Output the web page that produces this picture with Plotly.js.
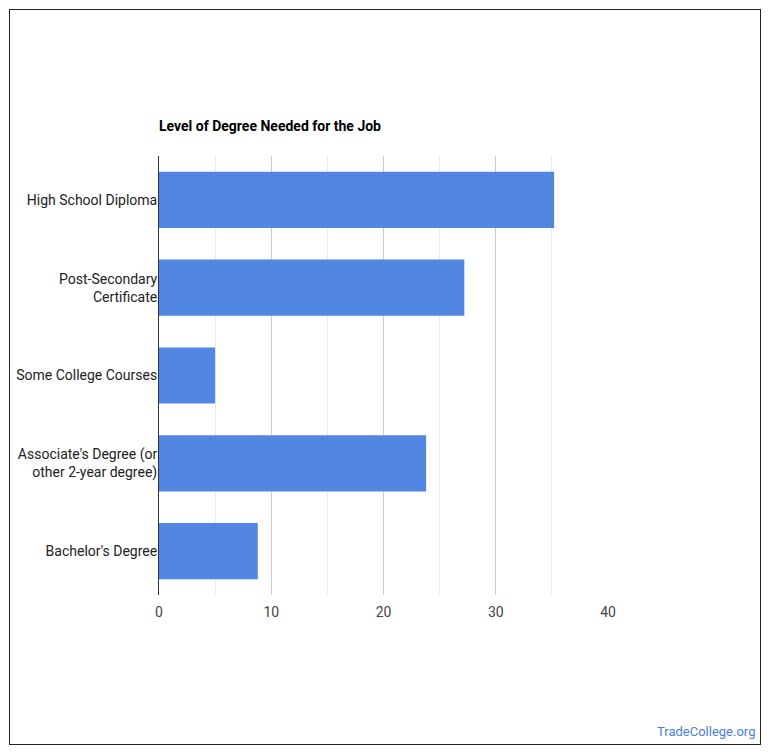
<!DOCTYPE html>
<html>
<head>
<meta charset="utf-8">
<script src="https://cdn.plot.ly/plotly-3.0.1.min.js"></script>
<style>
html,body{margin:0;padding:0;background:#fff;}
#chart{width:770px;height:754px;position:absolute;left:0;top:0;}
#frame{position:absolute;left:9px;top:9px;width:750px;height:734px;border:1px solid #222;pointer-events:none;}
</style>
</head>
<body>
<div id="chart"></div>
<div id="frame"></div>
<script>
const categories = ["High School Diploma", "Post-Secondary<br>Certificate", "Some College Courses", "Associate's Degree (or<br>other 2-year degree)", "Bachelor's Degree"];
const values = [35.2, 27.2, 5.0, 23.8, 8.8];
const xTicks = [0, 10, 20, 30, 40];

const trace = {
  type: 'bar',
  orientation: 'h',
  y: categories,
  x: values,
  marker: {color: '#5186e3', line: {width: 0}},
  hoverinfo: 'x+y'
};

const layout = {
  width: 770, height: 754,
  margin: {l: 159, r: 162, t: 156, b: 159, pad: 0},
  paper_bgcolor: '#fff', plot_bgcolor: '#fff',
  font: {family: 'Roboto, Arial, sans-serif', color: '#222', size: 14},
  title: {
    text: '<b>Level of Degree Needed for the Job</b>',
    font: {family: 'Roboto, Arial, sans-serif', size: 14, color: '#000'},
    xref: 'paper', x: 0, xanchor: 'left',
    yref: 'container', y: 1 - 126/754, yanchor: 'middle'
  },
  bargap: 0.36,
  showlegend: false,
  xaxis: {
    range: [0, 40],
    tickvals: xTicks,
    ticktext: xTicks.map(String),
    showgrid: true, gridcolor: '#cccccc', gridwidth: 1,
    minor: {dtick: 5, showgrid: true, gridcolor: '#ebebeb', gridwidth: 1},
    zeroline: false, showline: false,
    ticks: '', ticklabelstandoff: 7,
    tickfont: {size: 14, color: '#444'},
    fixedrange: true
  },
  yaxis: {
    autorange: 'reversed',
    showline: true, linecolor: '#333', linewidth: 1,
    showgrid: false, zeroline: false,
    ticks: '', ticklen: 0, ticklabelstandoff: -2,
    tickfont: {size: 14, color: '#222'},
    fixedrange: true
  },
  annotations: [{
    text: 'TradeCollege.org',
    xref: 'paper', yref: 'paper', x: 1 + (757-608)/449, y: -(731-595)/439,
    xanchor: 'right', yanchor: 'middle', showarrow: false,
    font: {size: 13, color: '#4a7fd8'}
  }]
};

Plotly.newPlot('chart', [trace], layout, {displayModeBar: false, staticPlot: true});
</script>
</body>
</html>
